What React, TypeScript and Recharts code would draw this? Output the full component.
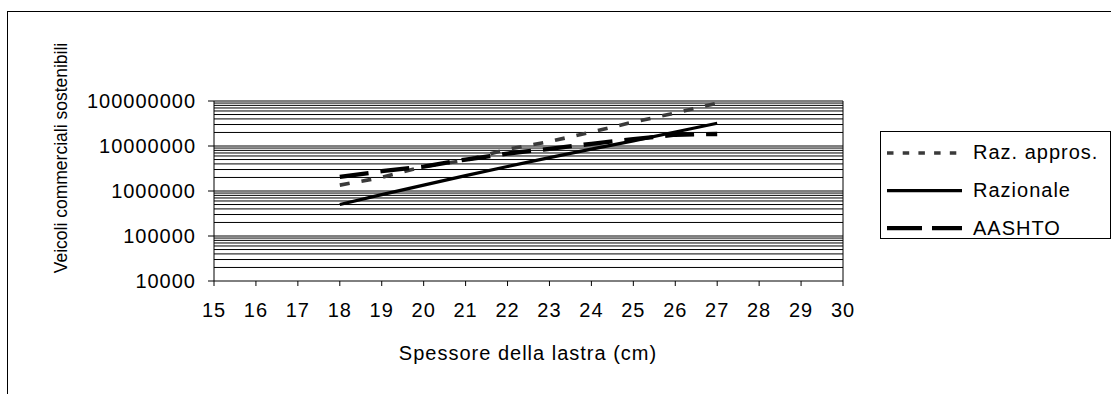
import React from 'react';
import { LineChart, Line, XAxis, YAxis, ReferenceLine, Legend } from 'recharts';

// ---- data ----
const thickness = [18, 19, 20, 21, 22, 23, 24, 25, 26, 27];
const razApprox = [1350000, 2000000, 3500000, 4800000, 8500000, 12500000, 20500000, 34000000, 54000000, 90000000];
const razionale = [500000, 830000, 1350000, 2200000, 3500000, 5500000, 8500000, 13000000, 20500000, 32000000];
const aashto = [2050000, 2750000, 3500000, 5000000, 6800000, 8600000, 11200000, 14200000, 17800000, 18500000];

const xTicks = [15, 16, 17, 18, 19, 20, 21, 22, 23, 24, 25, 26, 27, 28, 29, 30];
const yTicks = [10000, 100000, 1000000, 10000000, 100000000];
const minorMultipliers = [2, 3, 4, 5, 6, 7, 8, 9];

const seriesOrder = ['razApprox', 'razionale', 'aashto'];
const xTitle = 'Spessore della lastra (cm)';
const yTitle = 'Veicoli commerciali sostenibili';

const gridValues = yTicks
  .slice(1)
  .concat(yTicks.slice(0, -1).flatMap((d) => minorMultipliers.map((m) => d * m)));

const data = thickness.map((t, i) => ({
  t,
  razApprox: razApprox[i],
  razionale: razionale[i],
  aashto: aashto[i],
}));

const FONT = '"Liberation Sans", Arial, sans-serif';

const seriesStyle: Record<string, any> = {
  razApprox: { name: 'Raz. appros.', color: '#3a3a3a', width: 3.6, dash: '10 12', legendDash: '6.5 9.2' },
  razionale: { name: 'Razionale', color: '#000000', width: 3.2, dash: undefined, legendDash: undefined },
  aashto: { name: 'AASHTO', color: '#000000', width: 4.3, dash: '29 12', legendDash: '35 10' },
};

const renderLegend = (props: any) => {
  const payload = [...(props.payload || [])].sort(
    (a: any, b: any) => seriesOrder.indexOf(String(a.dataKey)) - seriesOrder.indexOf(String(b.dataKey))
  );
  return (
    <svg width={232} height={108} style={{ display: 'block' }}>
      <rect x={0.5} y={0.5} width={230} height={107} fill="#fff" stroke="#000" strokeWidth={1} />
      {payload.map((entry: any, i: number) => {
        const s = seriesStyle[entry.dataKey] || seriesStyle.razionale;
        const y = 22 + i * 37.6;
        return (
          <g key={String(entry.dataKey)}>
            <line x1={7} x2={82} y1={y} y2={y} stroke={s.color} strokeWidth={s.width} strokeDasharray={s.legendDash} />
            <text x={93} y={y + 6.3} fontSize={20} fontFamily={FONT} letterSpacing={1} fill="#000">
              {s.name}
            </text>
          </g>
        );
      })}
    </svg>
  );
};

export default function App() {
  return (
    <div style={{ position: 'absolute', left: 0, top: 0, width: 1111, height: 394, overflow: 'hidden', background: '#fff' }}>
      <div
        style={{
          position: 'absolute',
          left: 7,
          top: 11,
          width: 1300,
          height: 600,
          borderLeft: '1px solid #000',
          borderTop: '1px solid #000',
        }}
      />
      <div style={{ position: 'absolute', left: 0, top: 0 }}>
        <LineChart width={1111} height={394} data={data} margin={{ top: 101, right: 268, bottom: 73, left: 114 }}>
          {gridValues.map((v) => (
            <ReferenceLine key={v} y={v} stroke="#000" strokeWidth={1} zIndex={-10} />
          ))}
          <ReferenceLine x={30} stroke="#000" strokeWidth={1} zIndex={-10} />
          <XAxis
            dataKey="t"
            type="number"
            domain={[15, 30]}
            ticks={xTicks}
            interval={0}
            height={40}
            tickSize={5}
            tickMargin={17}
            allowDataOverflow
            axisLine={{ stroke: '#000' }}
            tickLine={{ stroke: '#000' }}
            tick={{ fill: '#000', fontSize: 20, fontFamily: FONT, letterSpacing: 1 }}
          />
          <YAxis
            type="number"
            scale="log"
            domain={[10000, 100000000]}
            ticks={yTicks}
            interval={0}
            width={100}
            tickSize={6}
            tickMargin={12}
            allowDataOverflow
            axisLine={{ stroke: '#000' }}
            tickLine={{ stroke: '#000' }}
            tick={{ fill: '#000', fontSize: 20, fontFamily: FONT, letterSpacing: 1 }}
          />
          {seriesOrder.map((k) => (
            <Line
              key={k}
              dataKey={k}
              name={seriesStyle[k].name}
              type="linear"
              stroke={seriesStyle[k].color}
              strokeWidth={seriesStyle[k].width}
              strokeDasharray={seriesStyle[k].dash}
              strokeLinecap="butt"
              dot={false}
              activeDot={false}
              isAnimationActive={false}
            />
          ))}
          <Legend
            layout="vertical"
            align="center"
            verticalAlign="middle"
            content={renderLegend}
            wrapperStyle={{ left: 880, top: 131, width: 232, height: 108, lineHeight: 0 }}
          />
        </LineChart>
      </div>
      <svg width={1111} height={394} style={{ position: 'absolute', left: 0, top: 0, pointerEvents: 'none' }}>
        <text transform="rotate(-90)" x={-158} y={67} textAnchor="middle" fontSize={17.5} fontFamily={FONT} fill="#000">
          {yTitle}
        </text>
        <text x={528} y={360} textAnchor="middle" fontSize={20} fontFamily={FONT} letterSpacing={1} fill="#000">
          {xTitle}
        </text>
      </svg>
    </div>
  );
}
